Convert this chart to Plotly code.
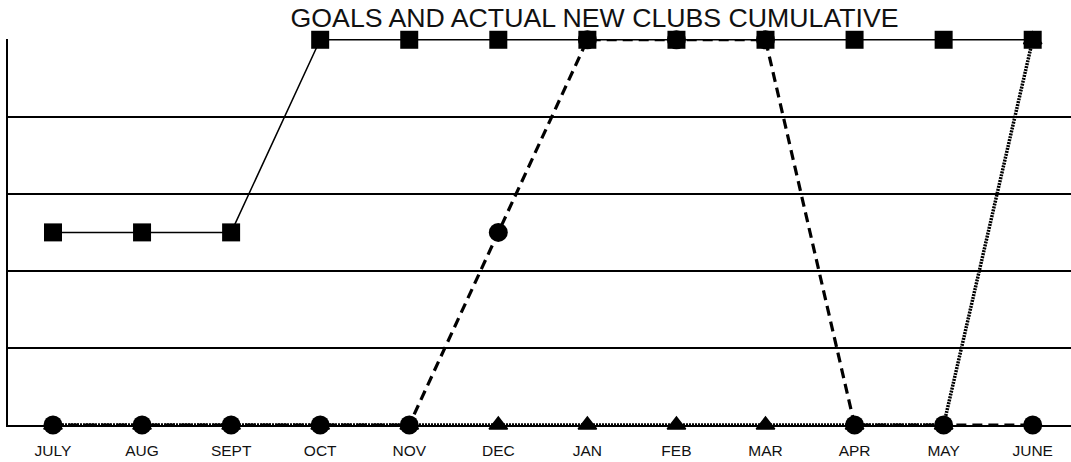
import plotly.graph_objects as go

months = ["JULY", "AUG", "SEPT", "OCT", "NOV", "DEC", "JAN", "FEB", "MAR", "APR", "MAY", "JUNE"]
goals = [5, 5, 5, 10, 10, 10, 10, 10, 10, 10, 10, 10]
actual = [0, 0, 0, 0, 0, 5, 10, 10, 10, 0, 0, 0]
third = [0, 0, 0, 0, 0, 0, 0, 0, 0, 0, 0, 10]

x_idx = list(range(len(months)))

fig = go.Figure()
fig.add_trace(go.Scatter(
    x=x_idx, y=third, mode="lines+markers", cliponaxis=False,
    line=dict(color="black", width=3.5, dash="2px,1px"),
    marker=dict(symbol="triangle-up", size=16, color="black",
                line=dict(color="black", width=1.5)),
    showlegend=False))
fig.add_trace(go.Scatter(
    x=x_idx, y=goals, mode="lines+markers", cliponaxis=False,
    line=dict(color="black", width=1.5),
    marker=dict(symbol="square", size=18, color="black"),
    showlegend=False))
fig.add_trace(go.Scatter(
    x=x_idx, y=actual, mode="lines+markers", cliponaxis=False,
    line=dict(color="black", width=3.2, dash="10px,6px"),
    marker=dict(symbol="circle", size=19, color="black"),
    showlegend=False))

fig.update_layout(
    width=1071, height=462,
    margin=dict(l=8, r=0, t=39, b=37),
    paper_bgcolor="white", plot_bgcolor="white",
    font=dict(family="Liberation Sans, Arial, sans-serif", color="black"),
    title=dict(text="GOALS AND ACTUAL NEW CLUBS CUMULATIVE",
               x=591 / 1071, xanchor="center", xref="paper",
               y=1 - 18 / 462, yanchor="middle",
               font=dict(size=26.7, color="#111")),
    xaxis=dict(
        range=[-0.505, 11.43], tickmode="array", tickvals=x_idx, ticktext=months,
        showgrid=False, zeroline=False, showline=True, linecolor="black", linewidth=2,
        ticks="", tickfont=dict(size=15.5, color="#111"), ticklabelstandoff=10,
    ),
    yaxis=dict(
        range=[0, 10.02], dtick=2, tick0=0, showticklabels=False,
        showgrid=True, gridcolor="black", gridwidth=2,
        zeroline=False, showline=True, linecolor="black", linewidth=2, ticks="",
    ),
)

fig.write_html(
    "out.html",
    config={"displayModeBar": False},
    post_script="document.body.style.margin='0';document.body.style.overflow='hidden';",
)
